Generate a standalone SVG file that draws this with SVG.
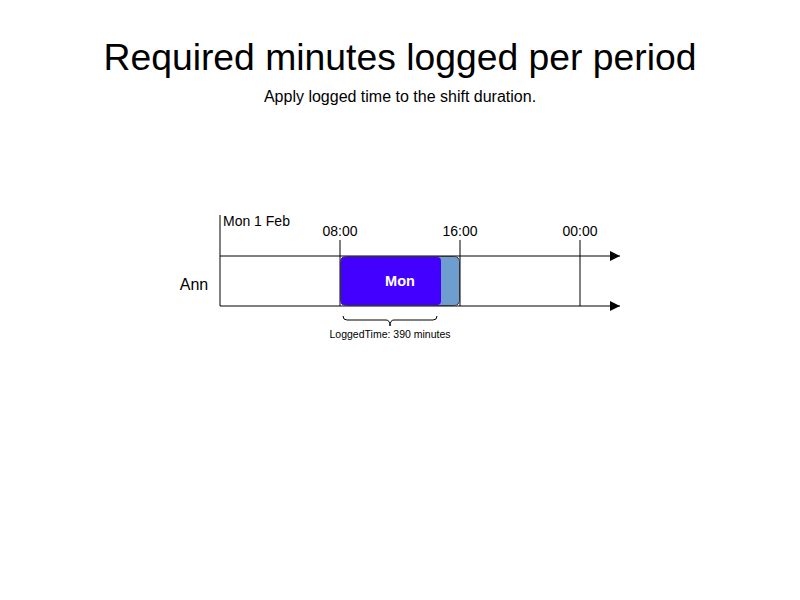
<svg xmlns="http://www.w3.org/2000/svg" width="800" height="600" viewBox="0 0 800 600">
<style>
text{font-family:"Liberation Sans",Arial,sans-serif;fill:#000}
.ax{stroke:#000;stroke-width:1;fill:none}
.tk{stroke:#000;stroke-width:1}
</style>
<defs>
<marker id="ah" viewBox="0 0 10 10" refX="10" refY="5" markerWidth="10" markerHeight="10" markerUnits="userSpaceOnUse" orient="auto"><path d="M0,0 L10,5 L0,10 z" fill="#000"/></marker>
</defs>
<rect width="800" height="600" fill="#fff"/>
<text x="400" y="70" font-size="37.3" text-anchor="middle">Required minutes logged per period</text>
<text x="400" y="102" font-size="16" text-anchor="middle">Apply logged time to the shift duration.</text>
<text x="194" y="290" font-size="16" text-anchor="middle">Ann</text>
<text x="223" y="226" font-size="14">Mon 1 Feb</text>
<text x="340" y="236" font-size="14" text-anchor="middle">08:00</text>
<text x="460" y="236" font-size="14" text-anchor="middle">16:00</text>
<text x="580" y="236" font-size="14" text-anchor="middle">00:00</text>
<g id="connectors">
<line class="tk" x1="220" y1="215" x2="220" y2="306"/>
<line class="tk" x1="340" y1="240" x2="340" y2="306"/>
<line class="tk" x1="460" y1="240" x2="460" y2="306"/>
<line class="tk" x1="580" y1="240" x2="580" y2="306"/>
<line class="ax" x1="220" y1="256" x2="620" y2="256" marker-end="url(#ah)"/>
<line class="ax" x1="220" y1="306" x2="620" y2="306" marker-end="url(#ah)"/>
</g>
<g id="shift">
<rect x="340.5" y="256.5" width="119" height="49" rx="5" fill="#6e9ecf" stroke="#333" stroke-width="1"/>
</g>
<g id="logged">
<rect x="341" y="257" width="100" height="48" rx="4" fill="#4400ff"/>
<text x="400" y="286" font-size="14.5" font-weight="bold" text-anchor="middle" style="fill:#fff">Mon</text>
</g>
<g id="brace">
<path d="M343,316 Q343,320 347,320 L386,320 Q390,320 390,326 Q390,320 394,320 L433,320 Q437,320 437,316" fill="none" stroke="#000" stroke-width="1"/>
<text x="390" y="338" font-size="10.5" text-anchor="middle">LoggedTime: 390 minutes</text>
</g>
</svg>
